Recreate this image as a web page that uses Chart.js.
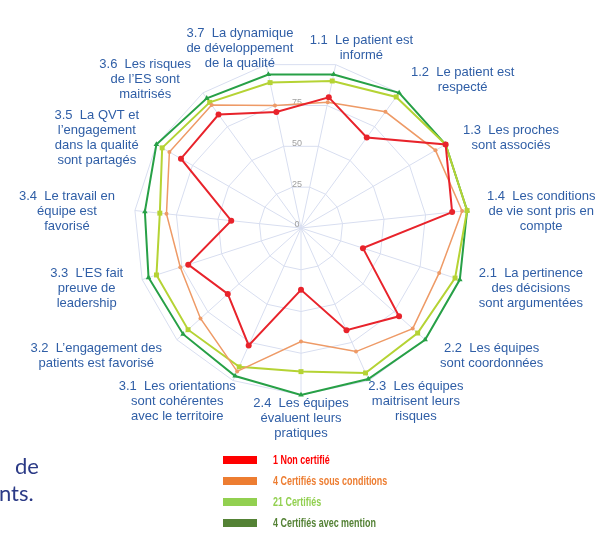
<!DOCTYPE html>
<html lang="fr">
<head>
<meta charset="utf-8">
<title>Certification – résultats par critère</title>
<script src="https://cdn.jsdelivr.net/npm/chart.js@4.4.1/dist/chart.umd.min.js"></script>
<style>
  html, body { margin: 0; padding: 0; background: #fff; }
  #wrap { position: relative; width: 613px; height: 539px; overflow: hidden; }
  #wrap canvas { position: absolute; left: 0; top: 0; }
  .slide-text {
    position: absolute; font-family: Lato, 'Open Sans', sans-serif;
    font-size: 22px; color: #2b3a86; line-height: 27px; white-space: nowrap;
  }
  #legend { position: absolute; left: 223px; top: 449px; }
  #legend .row { display: flex; align-items: center; height: 21px; }
  #legend .sw { width: 34px; height: 8px; margin-right: 16px; }
  #legend .txt {
    display: inline-block; transform: scaleX(0.745); transform-origin: left center;
    font-family: 'Liberation Sans', Arial, sans-serif;
    font-weight: bold; font-size: 12px; white-space: nowrap;
  }
</style>
</head>
<body>
<div id="wrap">
  <canvas id="radar"></canvas>
  <div class="slide-text" style="left:15px; top:452px;">de</div>
  <div class="slide-text" style="left:-1px; top:479px;">nts.</div>
  <div id="legend"></div>
</div>

<script>
'use strict';

// ── DATA ──────────────────────────────────────────────────────
const AXIS_LABELS = [
  ['1.1  Le patient est', 'informé'],
  ['1.2  Le patient est', 'respecté'],
  ['1.3  Les proches', 'sont associés'],
  ['1.4  Les conditions', 'de vie sont pris en', 'compte'],
  ['2.1  La pertinence', 'des décisions', 'sont argumentées'],
  ['2.2  Les équipes', 'sont coordonnées'],
  ['2.3  Les équipes', 'maitrisent leurs', 'risques'],
  ['2.4  Les équipes', 'évaluent leurs', 'pratiques'],
  ['3.1  Les orientations', 'sont cohérentes', 'avec le territoire'],
  ['3.2  L’engagement des', 'patients est favorisé'],
  ['3.3  L’ES fait', 'preuve de', 'leadership'],
  ['3.4  Le travail en', 'équipe est', 'favorisé'],
  ['3.5  La QVT et', 'l’engagement', 'dans la qualité', 'sont partagés'],
  ['3.6  Les risques', 'de l’ES sont', 'maitrisés'],
  ['3.7  La dynamique', 'de développement', 'de la qualité'],
];

const NON_CERTIFIE    = [80, 67, 100, 91, 39, 79, 67, 37, 77, 59, 71, 42, 83, 84, 71];
const SOUS_CONDITIONS = [77, 86, 93, 97, 87, 90, 81, 68, 94, 81, 76, 81, 91, 91, 75];
const CERTIFIES       = [90, 97, 100, 100, 97, 94, 95, 86, 91, 91, 91, 85, 96, 93, 89];
const AVEC_MENTION    = [94, 100, 100, 100, 100, 100, 99, 100, 97, 95, 96, 94, 100, 96, 94];

const SERIES_NAMES = ['1 Non certifié', '4 Certifiés sous conditions', '21 Certifiés', '4 Certifiés avec mention'];
const TICK_VALUES  = [0, 25, 50, 75];

// ── STYLE ─────────────────────────────────────────────────────
const LINE_COLORS   = ['#e8232b', '#ee9a66', '#b5d334', '#27a046'];
const LEGEND_COLORS = ['#ff0000', '#ed7d31', '#92d050', '#548235'];
const POINT_STYLES  = ['circle', 'circle', 'rect', 'triangle'];
const POINT_RADII   = [3, 2, 3.5, 3.2];
const LINE_WIDTHS   = [2, 1.5, 2, 2];
const LABEL_COLOR   = '#2f5ea6';
const GRID_COLOR    = '#d8def0';
const LABEL_LINE_H  = 15;

// ── PLUGINS ───────────────────────────────────────────────────
const tickValuePlugin = {
  id: 'tickValues',
  beforeDatasetsDraw(chart) {
    const scale = chart.scales.r;
    const ctx = chart.ctx;
    const edge = Math.cos(Math.PI / AXIS_LABELS.length);
    ctx.save();
    ctx.font = '9px "Liberation Sans", Arial, sans-serif';
    ctx.fillStyle = '#a0a0a0';
    ctx.textAlign = 'center';
    ctx.textBaseline = 'middle';
    TICK_VALUES.forEach(v => {
      const d = scale.getDistanceFromCenterForValue(v) * edge;
      ctx.fillText(String(v), scale.xCenter - 4, scale.yCenter - d - 3);
    });
    ctx.restore();
  },
};

const axisLabelPlugin = {
  id: 'axisLabels',
  afterDraw(chart) {
    const scale = chart.scales.r;
    const ctx = chart.ctx;
    ctx.save();
    ctx.font = '13px "Liberation Sans", Arial, sans-serif';
    ctx.fillStyle = LABEL_COLOR;
    ctx.textAlign = 'center';
    ctx.textBaseline = 'middle';
    chart.data.labels.forEach((lines, i) => {
      const p = scale.getPointPosition(i, scale.drawingArea + 20);
      const s = Math.sin(scale.getIndexAngle(i));
      const w = Math.max(...lines.map(l => ctx.measureText(l).width));
      const x = p.x + Math.sign(s) * (w / 2) * Math.min(1, 2 * Math.abs(s));
      const top = p.y + 3 - (lines.length - 1) * LABEL_LINE_H / 2;
      lines.forEach((l, k) => ctx.fillText(l, x, top + k * LABEL_LINE_H));
    });
    ctx.restore();
  },
};

// ── CHART ─────────────────────────────────────────────────────
const seriesData = [NON_CERTIFIE, SOUS_CONDITIONS, CERTIFIES, AVEC_MENTION];

const wrap = document.getElementById('wrap');
const canvas = document.getElementById('radar');
canvas.width = wrap.clientWidth;
canvas.height = wrap.clientHeight;

new Chart(canvas, {
  type: 'radar',
  data: {
    labels: AXIS_LABELS,
    datasets: seriesData.map((values, i) => ({
      label: SERIES_NAMES[i],
      data: values,
      fill: false,
      borderColor: LINE_COLORS[i],
      backgroundColor: LINE_COLORS[i],
      borderWidth: LINE_WIDTHS[i],
      pointStyle: POINT_STYLES[i],
      pointRadius: POINT_RADII[i],
      pointBackgroundColor: LINE_COLORS[i],
      pointBorderColor: LINE_COLORS[i],
      pointBorderWidth: 0,
      tension: 0,
    })),
  },
  options: {
    responsive: false,
    animation: false,
    layout: { padding: { left: 134, right: 145, top: 61, bottom: 144 } },
    scales: {
      r: {
        min: 0,
        max: 100,
        startAngle: 12,
        ticks: { stepSize: 25, display: false },
        grid: { color: GRID_COLOR, lineWidth: 1 },
        angleLines: { color: GRID_COLOR, lineWidth: 1 },
        pointLabels: { display: false },
      },
    },
    plugins: {
      legend: { display: false },
      tooltip: { enabled: false },
    },
  },
  plugins: [tickValuePlugin, axisLabelPlugin],
});

// ── LEGEND ────────────────────────────────────────────────────
const legend = document.getElementById('legend');
SERIES_NAMES.forEach((name, i) => {
  const row = document.createElement('div');
  row.className = 'row';
  row.innerHTML = `<span class="sw" style="background:${LEGEND_COLORS[i]}"></span>` +
                  `<span class="txt" style="color:${LEGEND_COLORS[i]}">${name}</span>`;
  legend.appendChild(row);
});
</script>
</body>
</html>
